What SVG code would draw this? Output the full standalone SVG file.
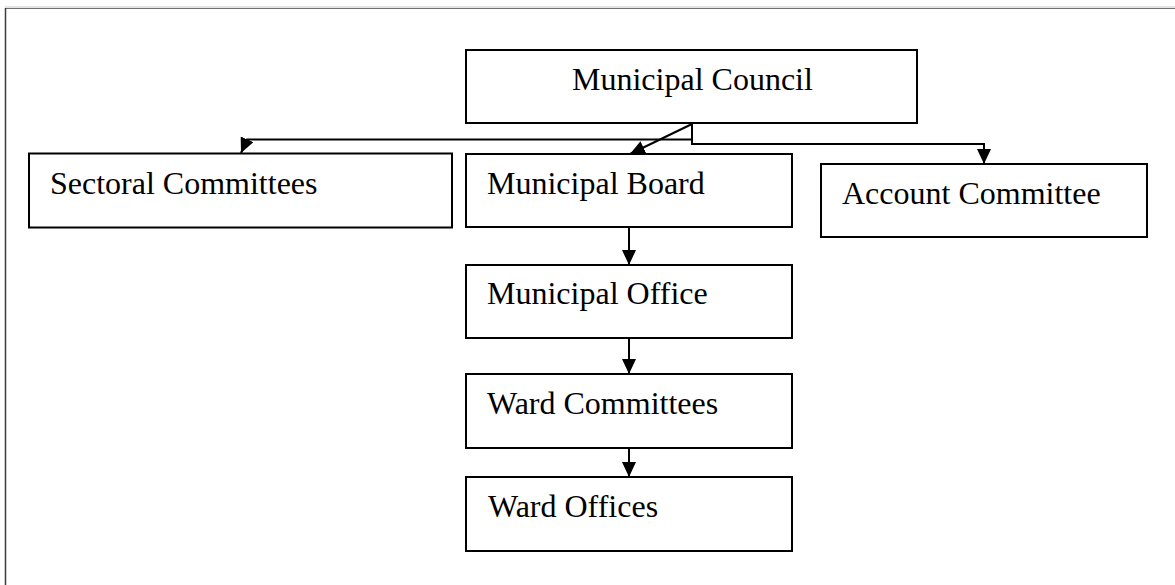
<svg xmlns="http://www.w3.org/2000/svg" width="1175" height="585" viewBox="0 0 1175 585">
  <style>
    .box { fill: #ffffff; stroke: #000000; stroke-width: 2; }
    .label { font-family: "Liberation Serif", "Times New Roman", serif; font-size: 32px; fill: #000000; }
    .link { fill: none; stroke: #000000; stroke-width: 2; }
  </style>
  <defs>
    <marker id="arrow" viewBox="0 0 15 14" refX="15" refY="7" markerWidth="15" markerHeight="14" markerUnits="userSpaceOnUse" orient="auto">
      <path d="M0,0 L15,7 L0,14 z" fill="#000000"/>
    </marker>
  </defs>

  <rect width="1175" height="585" fill="#ffffff"/>

  <!-- page frame -->
  <g id="frame">
    <line x1="5" y1="7" x2="1175" y2="7" stroke="#c8c8c8" stroke-width="1"/>
    <line x1="5" y1="8.5" x2="1175" y2="8.5" stroke="#6e6e6e" stroke-width="1.2"/>
    <line x1="5.5" y1="8" x2="5.5" y2="585" stroke="#3c3c3c" stroke-width="1.5"/>
  </g>

  <!-- connectors -->
  <g id="connectors">
    <path class="link" d="M692,124 V144 H984 V164" marker-end="url(#arrow)"/>
    <path class="link" d="M692,124 L630,154" marker-end="url(#arrow)"/>
    <path class="link" d="M692,139.5 H247 L241,153" marker-end="url(#arrow)"/>
    <path class="link" d="M629,228 V265" marker-end="url(#arrow)"/>
    <path class="link" d="M629,339 V374" marker-end="url(#arrow)"/>
    <path class="link" d="M629,448 V477" marker-end="url(#arrow)"/>
  </g>

  <g id="municipal-council">
    <rect class="box" x="466" y="50" width="451" height="73"/>
    <text class="label" x="572" y="90">Municipal Council</text>
  </g>

  <g id="sectoral-committees">
    <rect class="box" x="29" y="153.5" width="423" height="74"/>
    <text class="label" x="50" y="194">Sectoral Committees</text>
  </g>

  <g id="municipal-board">
    <rect class="box" x="466" y="154" width="326" height="73"/>
    <text class="label" x="487" y="194">Municipal Board</text>
  </g>

  <g id="account-committee">
    <rect class="box" x="821" y="164" width="326" height="73"/>
    <text class="label" x="842" y="203.5">Account Committee</text>
  </g>

  <g id="municipal-office">
    <rect class="box" x="466" y="265" width="326" height="73"/>
    <text class="label" x="487" y="304">Municipal Office</text>
  </g>

  <g id="ward-committees">
    <rect class="box" x="466" y="374" width="326" height="74"/>
    <text class="label" x="487" y="413.5">Ward Committees</text>
  </g>

  <g id="ward-offices">
    <rect class="box" x="466" y="477" width="326" height="74"/>
    <text class="label" x="488" y="517">Ward Offices</text>
  </g>
</svg>
